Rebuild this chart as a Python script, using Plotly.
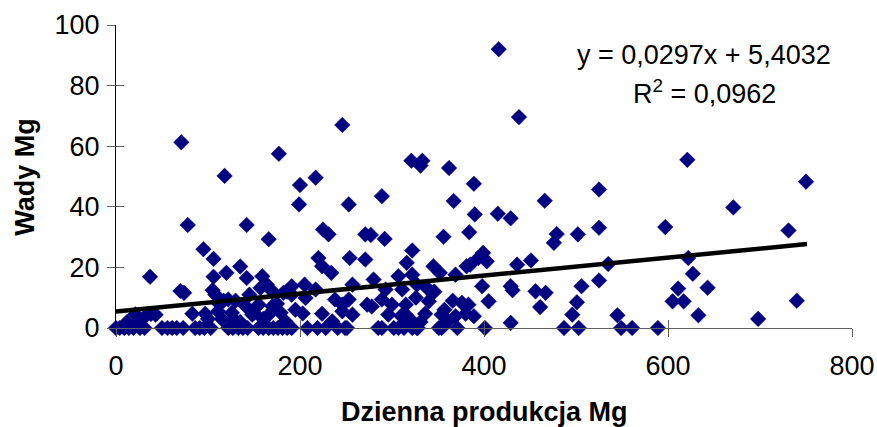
import plotly.graph_objects as go

# Scatter data: daily production (x) vs defects (y), both in Mg
prod = [
    416, 438, 246, 71, 177, 321, 333, 331, 362, 621, 118, 217, 200, 389, 750, 525,
    289, 253, 199, 367, 466, 671, 415, 429, 390, 78, 142, 225, 231, 525, 597, 731,
    384, 271, 277, 479, 502, 356, 166, 292, 476, 95, 322, 106, 220, 254, 271, 399,
    394, 403, 451, 622, 535, 224, 135, 345, 381, 385, 436, 316, 120, 234, 352, 369,
    627, 106, 37, 142, 159, 307, 322, 525, 280, 164, 157, 191, 205, 257, 327, 338,
    398, 429, 431, 506, 643, 611, 293, 311, 217, 182, 170, 70, 74, 105, 108, 456,
    467, 191, 206, 122, 238, 253, 289, 340, 376, 405, 501, 605, 617, 740, 141, 155,
    170, 246, 273, 278, 300, 315, 383, 461, 126, 148, 166, 179, 203, 224, 246, 257,
    296, 315, 336, 354, 369, 380, 389, 496, 545, 633, 698, 429, 83, 97, 111, 38,
    21, 32, 43, 25, 235, 184, 322, 361, 12, 112, 117, 128, 135, 100,
    115, 130, 145, 150, 175, 186, 195, 160, 310, 326, 346, 357, 366, 331,
    0, 4, 9, 14, 19, 26, 31, 50, 56, 61, 66, 73, 86, 91, 96, 103, 122, 127, 133,
    138, 143, 155, 160, 166, 171, 176, 181, 186, 191, 208, 219, 228, 241, 249, 251,
    285, 289, 302, 307, 313, 322, 327, 328, 351, 354, 371, 401, 487, 503, 549, 561, 589,
]
defects = [
    92, 69.6, 67, 61.3, 57.5, 55.2, 55.2, 53.6, 52.8, 55.5, 50.2, 49.6, 47.2, 47.6, 48.3, 45.7,
    43.5, 40.8, 40.8, 41.9, 42, 39.8, 37.7, 36.2, 37.5, 34, 34, 32.5, 30.9, 33.1, 33.3, 32.2,
    31.6, 30.9, 30.7, 31, 30.9, 30.1, 29.3, 29.4, 28.1, 26, 25.6, 22.8, 23.1, 23.1, 22.6, 24.8,
    23.1, 22, 22.3, 23.1, 21.1, 20.4, 20.3, 20.4, 20.4, 20.9, 20.9, 21.5, 18.2, 18.2, 18.2, 17.6,
    17.9, 16.9, 16.9, 16.5, 17.1, 17.1, 17.6, 15.7, 16, 14.3, 13.2, 13.8, 14.3, 14.3, 14.3, 13.2,
    13.8, 13.8, 12.5, 13.8, 13.3, 13, 12.7, 12.7, 12.7, 11.6, 12.1, 12.2, 11.6, 12.5, 11, 12.1,
    11.6, 11, 9.9, 9.4, 9.4, 9.4, 9.4, 8.8, 8.3, 8.8, 8.5, 8.8, 8.8, 9, 7.2, 7.7,
    7.2, 7.7, 7.7, 7.1, 7.7, 7.7, 7.7, 6.9, 5, 4.4, 4.4, 5, 4.8, 4.7, 5.5, 4.4,
    4.4, 4.4, 4.7, 4.4, 3.9, 4.7, 3.9, 4.4, 4.2, 4.2, 3, 1.7, 4.7, 4.7, 5.5, 4.6,
    4.5, 3.9, 4.4, 2.2, 2.2, 2.2, 2.2, 2.2, 2, 8, 9, 3, 2, 3,
    3, 9, 11, 5, 8, 12, 6, 3, 4, 10, 12, 6, 9, 2,
    0, 0, 0, 0, 0, 0, 0, 0, 0, 0, 0, 0, 0, 0, 0, 0, 0, 0, 0,
    0, 0, 0, 0, 0, 0, 0, 0, 0, 0, 0, 0, 0, 0, 0, 0,
    0, 0, 0, 0, 0, 0, 0, 0, 0, 0, 0, 0, 0, 0, 0, 0, 0,
]

# Linear trend (as given in the chart)
slope = 0.0297
intercept = 5.4032
trend_x = [0, 751]
trend_y = [intercept + slope * v for v in trend_x]

eq_text = "y = 0,0297x + 5,4032"
r2_text = "R<sup>2</sup> = 0,0962"
x_title = "Dzienna produkcja Mg"
y_title = "Wady Mg"
x_ticks = [0, 200, 400, 600, 800]
y_ticks = [0, 20, 40, 60, 80, 100]

FONT = "Liberation Sans, Arial, sans-serif"
TICK = "#606060"

fig = go.Figure()
fig.add_trace(go.Scatter(
    x=prod, y=defects, mode="markers",
    marker=dict(symbol="diamond", size=12, color="#000080",
                line=dict(width=0.5, color="#000080")),
    cliponaxis=False, showlegend=False, hoverinfo="x+y",
))
fig.add_trace(go.Scatter(
    x=trend_x, y=trend_y, mode="lines",
    line=dict(color="black", width=4.5),
    cliponaxis=False, showlegend=False, hoverinfo="skip",
))
# invisible trace to activate secondary axes (inner half of crossing ticks)
fig.add_trace(go.Scatter(x=[None], y=[None], xaxis="x2", yaxis="y2",
                         showlegend=False, hoverinfo="skip"))

fig.update_layout(
    width=877, height=427,
    margin=dict(l=116, r=25, t=25, b=99, autoexpand=False),
    paper_bgcolor="white", plot_bgcolor="white",
    font=dict(family=FONT, size=27, color="black"),
    xaxis=dict(
        range=[0, 800], tickvals=x_ticks, ticktext=[str(v) for v in x_ticks],
        showgrid=False, zeroline=False, automargin=False,
        showline=True, linecolor=TICK, linewidth=1,
        ticks="outside", ticklen=8, tickcolor=TICK, tickwidth=1,
        ticklabelstandoff=6,
        tickfont=dict(size=27),
    ),
    yaxis=dict(
        range=[0, 100], tickvals=y_ticks, ticktext=[str(v) for v in y_ticks],
        showgrid=False, zeroline=False, automargin=False,
        showline=True, linecolor="black", linewidth=1,
        ticks="outside", ticklen=8, tickcolor=TICK, tickwidth=1,
        ticklabelstandoff=2,
        tickfont=dict(size=27),
    ),
    xaxis2=dict(
        range=[0, 800], tickvals=x_ticks, overlaying="x", anchor="y",
        showticklabels=False, showgrid=False, zeroline=False, showline=False,
        ticks="inside", ticklen=8, tickcolor=TICK, tickwidth=1, automargin=False,
    ),
    yaxis2=dict(
        range=[0, 100], tickvals=y_ticks, overlaying="y", anchor="x",
        showticklabels=False, showgrid=False, zeroline=False, showline=False,
        ticks="inside", ticklen=8, tickcolor=TICK, tickwidth=1, automargin=False,
    ),
    annotations=[
        dict(text=eq_text, xref="paper", yref="paper", x=0.799, y=0.901,
             showarrow=False, xanchor="center", yanchor="middle",
             font=dict(size=27, family=FONT)),
        dict(text=r2_text, xref="paper", yref="paper", x=0.799, y=0.778,
             showarrow=False, xanchor="center", yanchor="middle",
             font=dict(size=27, family=FONT)),
        dict(text="<b>" + x_title + "</b>", xref="paper", yref="paper",
             x=0.5, y=-0.278, showarrow=False, xanchor="center", yanchor="middle",
             font=dict(size=27, family=FONT)),
        dict(text="<b>" + y_title + "</b>", xref="paper", yref="paper",
             x=-0.1246, y=0.5, showarrow=False, xanchor="center", yanchor="middle",
             textangle=-90, font=dict(size=27, family=FONT)),
    ],
)

fig.write_html("out.html")
